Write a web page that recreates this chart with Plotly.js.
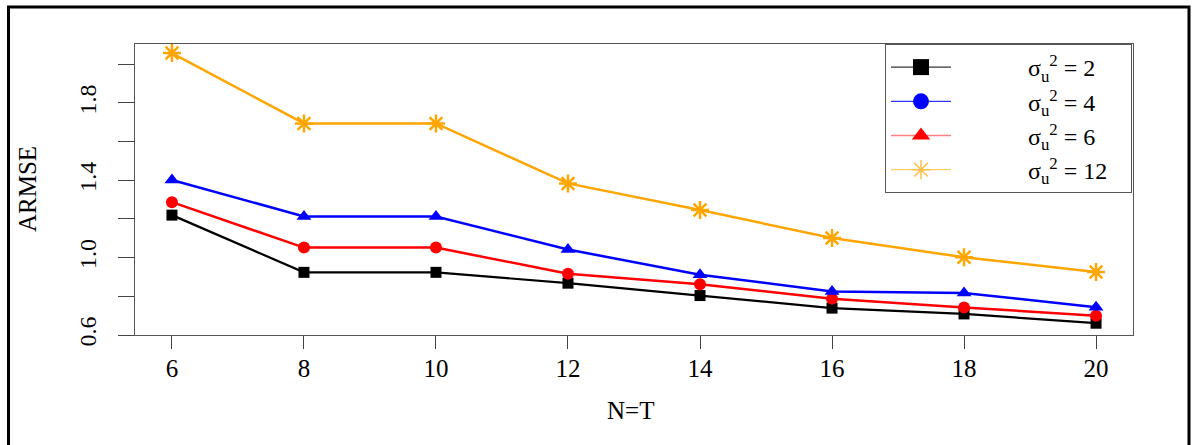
<!DOCTYPE html>
<html>
<head>
<meta charset="utf-8">
<script src="https://cdn.plot.ly/plotly-3.0.1.min.js"></script>
<style>
html,body{margin:0;padding:0;background:#fff;}
#chart{width:1192px;height:445px;}
</style>
</head>
<body>
<div id="chart"></div>
<script>
// Data
const nt = [6, 8, 10, 12, 14, 16, 18, 20];
const armse_s2  = [1.220, 0.924, 0.924, 0.868, 0.804, 0.739, 0.709, 0.661];
const armse_s4  = [1.402, 1.213, 1.213, 1.042, 0.912, 0.825, 0.817, 0.744];
const armse_s6  = [1.287, 1.052, 1.052, 0.917, 0.863, 0.787, 0.742, 0.700];
const armse_s12 = [2.058, 1.694, 1.694, 1.384, 1.246, 1.102, 1.002, 0.926];
const legendLabels = ["σ<sub>u</sub><sup>2</sup> = 2", "σ<sub>u</sub><sup>2</sup> = 4", "σ<sub>u</sub><sup>2</sup> = 6", "σ<sub>u</sub><sup>2</sup> = 12"];
const xTickVals = [6, 8, 10, 12, 14, 16, 18, 20];

const serif = "Liberation Serif, Times New Roman, serif";
const padL = "&nbsp;".repeat(12);
const padR = "&nbsp;".repeat(3);

const traces = [
  {x: nt, y: armse_s2, mode: "lines+markers", showlegend: false,
   line: {color: "#000000", width: 2.2}, marker: {symbol: "square", size: 11, color: "#000000"}},
  {x: nt, y: armse_s6, mode: "lines+markers", showlegend: false,
   line: {color: "#FF0000", width: 2.5}, marker: {symbol: "circle", size: 12, color: "#FF0000"}},
  {x: nt, y: armse_s4, mode: "lines+markers", showlegend: false,
   line: {color: "#0000FF", width: 2.5}, marker: {symbol: "triangle-up", size: 13, color: "#0000FF"}},
  {x: nt, y: armse_s12, mode: "lines+markers", showlegend: false,
   line: {color: "#FFA500", width: 2.5}, marker: {symbol: "asterisk-open", size: 15, line: {color: "#FFA500", width: 2.5}}},
  // legend entries (symbols as drawn in the reference legend)
  {x: [null], y: [null], mode: "lines+markers", name: padL + legendLabels[0] + padR,
   line: {color: "#000000", width: 1}, marker: {symbol: "square", size: 18, color: "#000000"}},
  {x: [null], y: [null], mode: "lines+markers", name: padL + legendLabels[1] + padR,
   line: {color: "#0000FF", width: 1}, marker: {symbol: "circle", size: 18, color: "#0000FF"}},
  {x: [null], y: [null], mode: "lines+markers", name: padL + legendLabels[2] + padR,
   line: {color: "#FF8080", width: 1.5}, marker: {symbol: "triangle-up", size: 20, color: "#FF0000"}},
  {x: [null], y: [null], mode: "lines+markers", name: padL + legendLabels[3] + padR,
   line: {color: "#FFC04D", width: 1}, marker: {symbol: "asterisk-open", size: 20, line: {color: "#FFC04D", width: 1.5}}}
];

const layout = {
  width: 1192, height: 445,
  margin: {l: 135, r: 59, t: 44, b: 110},
  paper_bgcolor: "#fff", plot_bgcolor: "#fff",
  font: {family: serif, size: 22, color: "#000"},
  showlegend: true,
  legend: {x: 0.7515, xanchor: "left", y: 1, yanchor: "top",
           bordercolor: "#555", borderwidth: 1, bgcolor: "#fff",
           font: {family: serif, size: 24, color: "#000"}, itemwidth: 60, tracegroupgap: 0},
  xaxis: {range: [5.44, 20.56], tickvals: xTickVals, ticks: "outside", ticklen: 13, tickcolor: "#444",
          showgrid: false, zeroline: false, showline: true, mirror: true, linecolor: "#555", linewidth: 1,
          tickfont: {family: serif, size: 25}, ticklabelstandoff: -2},
  yaxis: {range: [0.6, 2.105], tick0: 0.6, dtick: 0.4, tickformat: ".1f", ticks: "outside", ticklen: 16, tickcolor: "#444",
          minor: {dtick: 0.2, tick0: 0.6, ticks: "outside", ticklen: 16, tickcolor: "#444", showgrid: false},
          tickangle: -90, showgrid: false, zeroline: false, showline: true, mirror: true, linecolor: "#555", linewidth: 1,
          tickfont: {family: serif, size: 24}, ticklabelstandoff: 12},
  annotations: [
    {text: "N=T", xref: "paper", yref: "paper", x: (630 - 135) / 998, y: -(410 - 335) / 291,
     showarrow: false, xanchor: "center", yanchor: "middle", font: {family: serif, size: 25}},
    {text: "ARMSE", xref: "paper", yref: "paper", x: (27 - 135) / 998, y: (335 - 189) / 291,
     showarrow: false, xanchor: "center", yanchor: "middle", textangle: -90, font: {family: serif, size: 25}}
  ],
  shapes: [
    {type: "rect", xref: "paper", yref: "paper", x0: (8.5 - 135) / 998, x1: (1189 - 135) / 998,
     y0: -(460 - 335) / 291, y1: (335 - 7) / 291, line: {color: "#000", width: 3}}
  ]
};

Plotly.newPlot("chart", traces, layout, {displayModeBar: false, staticPlot: true});
</script>
</body>
</html>
